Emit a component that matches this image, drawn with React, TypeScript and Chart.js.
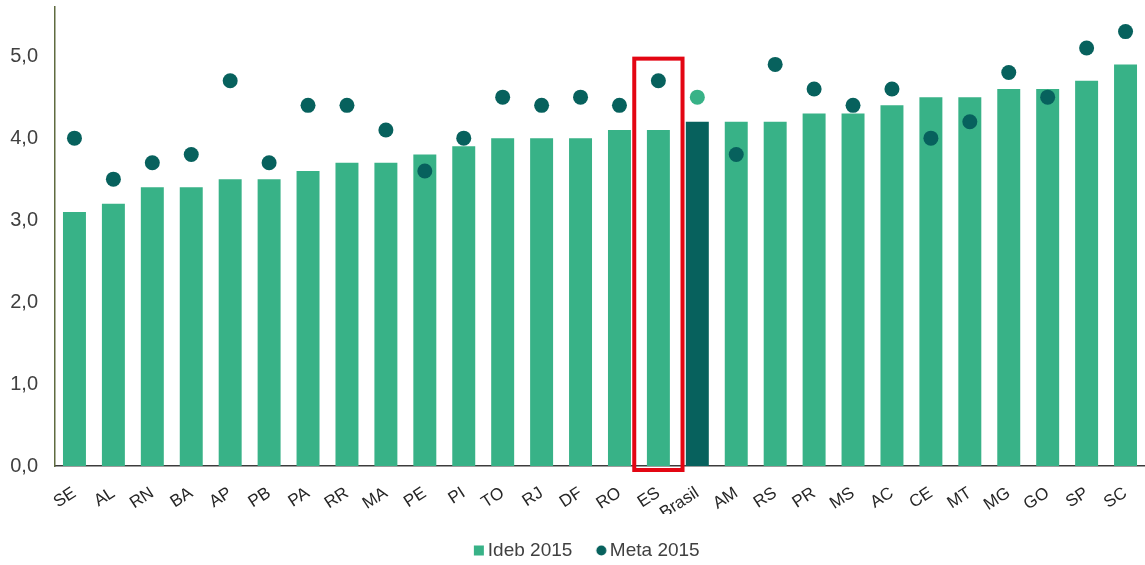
import React, { useEffect, useRef } from "react";
import { Chart, registerables } from "chart.js";

Chart.register(...registerables);

const categories = ["SE","AL","RN","BA","AP","PB","PA","RR","MA","PE","PI","TO","RJ","DF","RO","ES","Brasil","AM","RS","PR","MS","AC","CE","MT","MG","GO","SP","SC"];
const ideb2015 = [3.1,3.2,3.4,3.4,3.5,3.5,3.6,3.7,3.7,3.8,3.9,4.0,4.0,4.0,4.1,4.1,4.2,4.2,4.2,4.3,4.3,4.4,4.5,4.5,4.6,4.6,4.7,4.9];
const meta2015 = [4.0,3.5,3.7,3.8,4.7,3.7,4.4,4.4,4.1,3.6,4.0,4.5,4.4,4.5,4.4,4.7,4.5,3.8,4.9,4.6,4.4,4.6,4.0,4.2,4.8,4.5,5.1,5.3];
const yTicks = [0, 1, 2, 3, 4, 5];
const highlightCategory = "ES";
const highlightTop = 4.97;
const nationalCategory = "Brasil";

const GREEN = "#38B287";
const DARK = "#07615D";
const RED = "#E30613";
const TEXT = "#404040";
const FONT = "Liberation Sans, Arial, sans-serif";
const LEGEND_SHIFT = 16;

const highlightPlugin = {
  id: "highlightBox",
  afterLayout(chart: any) {
    if (chart.legend) {
      chart.legend.left += LEGEND_SHIFT;
      chart.legend.right += LEGEND_SHIFT;
    }
  },
  afterDatasetsDraw(chart: any) {
    const x = chart.scales.x;
    const y = chart.scales.y;
    const idx = categories.indexOf(highlightCategory);
    const cx = x.getPixelForValue(idx);
    const cw = x.width / categories.length;
    const left = cx - cw * 0.62;
    const right = cx + cw * 0.62;
    const top = y.getPixelForValue(highlightTop);
    const bottom = y.getPixelForValue(0) + 4;
    const ctx = chart.ctx;
    ctx.save();
    ctx.strokeStyle = RED;
    ctx.lineWidth = 4;
    ctx.strokeRect(left, top, right - left, bottom - top);
    ctx.restore();
  },
};

function makeMarker(kind: "rect" | "circle", color: string) {
  const c = document.createElement("canvas");
  c.width = 16;
  c.height = 11;
  const g = c.getContext("2d") as CanvasRenderingContext2D;
  g.fillStyle = color;
  if (kind === "rect") {
    g.fillRect(4, 0.5, 10, 10);
  } else {
    g.beginPath();
    g.arc(9.5, 5.5, 5, 0, Math.PI * 2);
    g.fill();
  }
  return c;
}

export default function App() {
  const ref = useRef<HTMLCanvasElement>(null);
  useEffect(() => {
    document.body.style.margin = "0";
    const barColors = categories.map((c) => (c === nationalCategory ? DARK : GREEN));
    const dotColors = categories.map((c) => (c === nationalCategory ? GREEN : DARK));
    const markers = [makeMarker("rect", GREEN), makeMarker("circle", DARK)];
    const chart = new Chart(ref.current as HTMLCanvasElement, {
      type: "bar",
      data: {
        labels: categories,
        datasets: [
          {
            type: "bar",
            label: "Ideb 2015",
            data: ideb2015,
            backgroundColor: barColors,
            borderWidth: 0,
            categoryPercentage: 1,
            barPercentage: 0.59,
            order: 1,
          } as any,
          {
            type: "line",
            label: "Meta 2015",
            data: meta2015,
            showLine: false,
            pointRadius: 7.5,
            pointHoverRadius: 7.5,
            pointBackgroundColor: dotColors,
            pointBorderWidth: 0,
            backgroundColor: DARK,
            borderColor: DARK,
            pointStyle: "circle",
            clip: false,
            order: 0,
          } as any,
        ],
      },
      options: {
        responsive: false,
        animation: false,
        layout: { autoPadding: false, padding: { top: 7, right: 0, bottom: -5, left: 0 } },
        plugins: {
          tooltip: { enabled: false },
          legend: {
            position: "bottom",
            labels: {
              usePointStyle: true,
              boxWidth: 1,
              boxHeight: 11,
              padding: 27,
              color: TEXT,
              font: { family: FONT, size: 19 },
              generateLabels: (ch: any) => {
                const items = (Chart.defaults.plugins.legend.labels as any).generateLabels(ch);
                items.sort((a: any, b: any) => a.datasetIndex - b.datasetIndex);
                items.forEach((it: any) => {
                  it.pointStyle = markers[it.datasetIndex];
                  it.lineWidth = 0;
                });
                return items;
              },
            },
          },
        },
        scales: {
          x: {
            grid: { display: false, drawTicks: false },
            border: { display: true, color: "#3c3c3c", width: 1.5 },
            ticks: {
              color: "#262626",
              font: { family: FONT, size: 17 },
              minRotation: 33,
              maxRotation: 33,
              autoSkip: false,
              padding: 17,
            },
            afterFit: (s: any) => {
              s.height = 48;
              s.paddingLeft = 0;
              s.paddingRight = 0;
            },
          },
          y: {
            min: 0,
            max: 5.6,
            grid: { display: false, drawTicks: false },
            border: { display: true, color: "#5f6b40", width: 1.5 },
            afterBuildTicks: (s: any) => {
              s.ticks = yTicks.map((v) => ({ value: v }));
            },
            ticks: {
              color: TEXT,
              padding: 17,
              font: { family: FONT, size: 20 },
              callback: (v: any) => Number(v).toFixed(1).replace(".", ","),
            },
            afterFit: (s: any) => {
              s.width = 55;
              s.paddingTop = 0;
              s.paddingBottom = 0;
            },
          },
        },
      },
      plugins: [highlightPlugin],
    });
    return () => chart.destroy();
  }, []);
  return (
    <div style={{ position: "absolute", left: 0, top: 0, width: 1145, height: 565 }}>
      <canvas ref={ref} width={1145} height={565} style={{ width: 1145, height: 565 }} />
    </div>
  );
}
